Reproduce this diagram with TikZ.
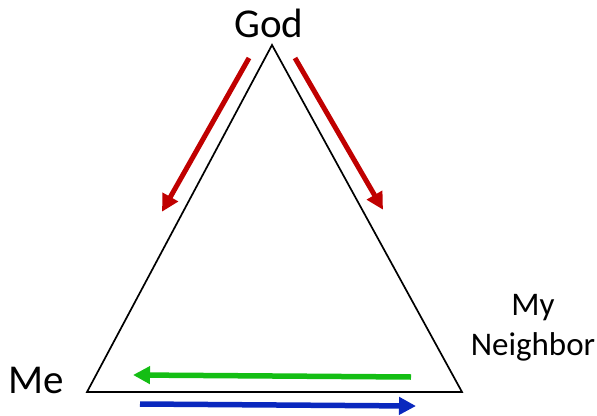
\documentclass[tikz,border=0pt]{standalone}
\usepackage{fontspec}
\setmainfont{Carlito}
\usetikzlibrary{arrows.meta}

\definecolor{godred}{RGB}{192,0,0}
\definecolor{nbrgreen}{RGB}{20,190,20}
\definecolor{mblue}{RGB}{10,40,190}

\tikzset{
  lbl/.style = {inner sep=0pt, font=\fontsize{41}{41}\selectfont},
  flow/.style = {line width=5.5pt, -{Triangle[length=17pt,width=17pt]}, shorten >=-2pt}
}

\begin{document}
\begin{tikzpicture}[x=1pt, y=-1pt]
\useasboundingbox (0,0) rectangle (597,415);

% triangle
\coordinate (top) at (272,45);
\coordinate (left) at (87,392);
\coordinate (right) at (462,392);
\draw [line width=1.7pt, line join=miter] (top) -- (left) -- (right) -- cycle;

% labels
\node [lbl, anchor=base] (god) at (269,37) {God};
\node [lbl, anchor=base west] (me) at (8,393) {Me};
\node [lbl, font=\fontsize{33}{40}\selectfont, align=center, anchor=base]
    (nbr) at (533,355) {My\\Neighbor};

% arrows
\coordinate (r1s) at (249,58);  \coordinate (r1e) at (163,210);
\coordinate (r2s) at (295,58);  \coordinate (r2e) at (382,208);
\coordinate (gs) at (411,377);  \coordinate (ge) at (135,375);
\coordinate (bs) at (140,404);  \coordinate (be) at (414,406);

\draw [flow, godred, line width=5pt] (r1s) -- (r1e);
\draw [flow, godred, line width=5pt] (r2s) -- (r2e);
\draw [flow, nbrgreen] (gs) -- (ge);
\draw [flow, mblue] (bs) -- (be);
\end{tikzpicture}
\end{document}
